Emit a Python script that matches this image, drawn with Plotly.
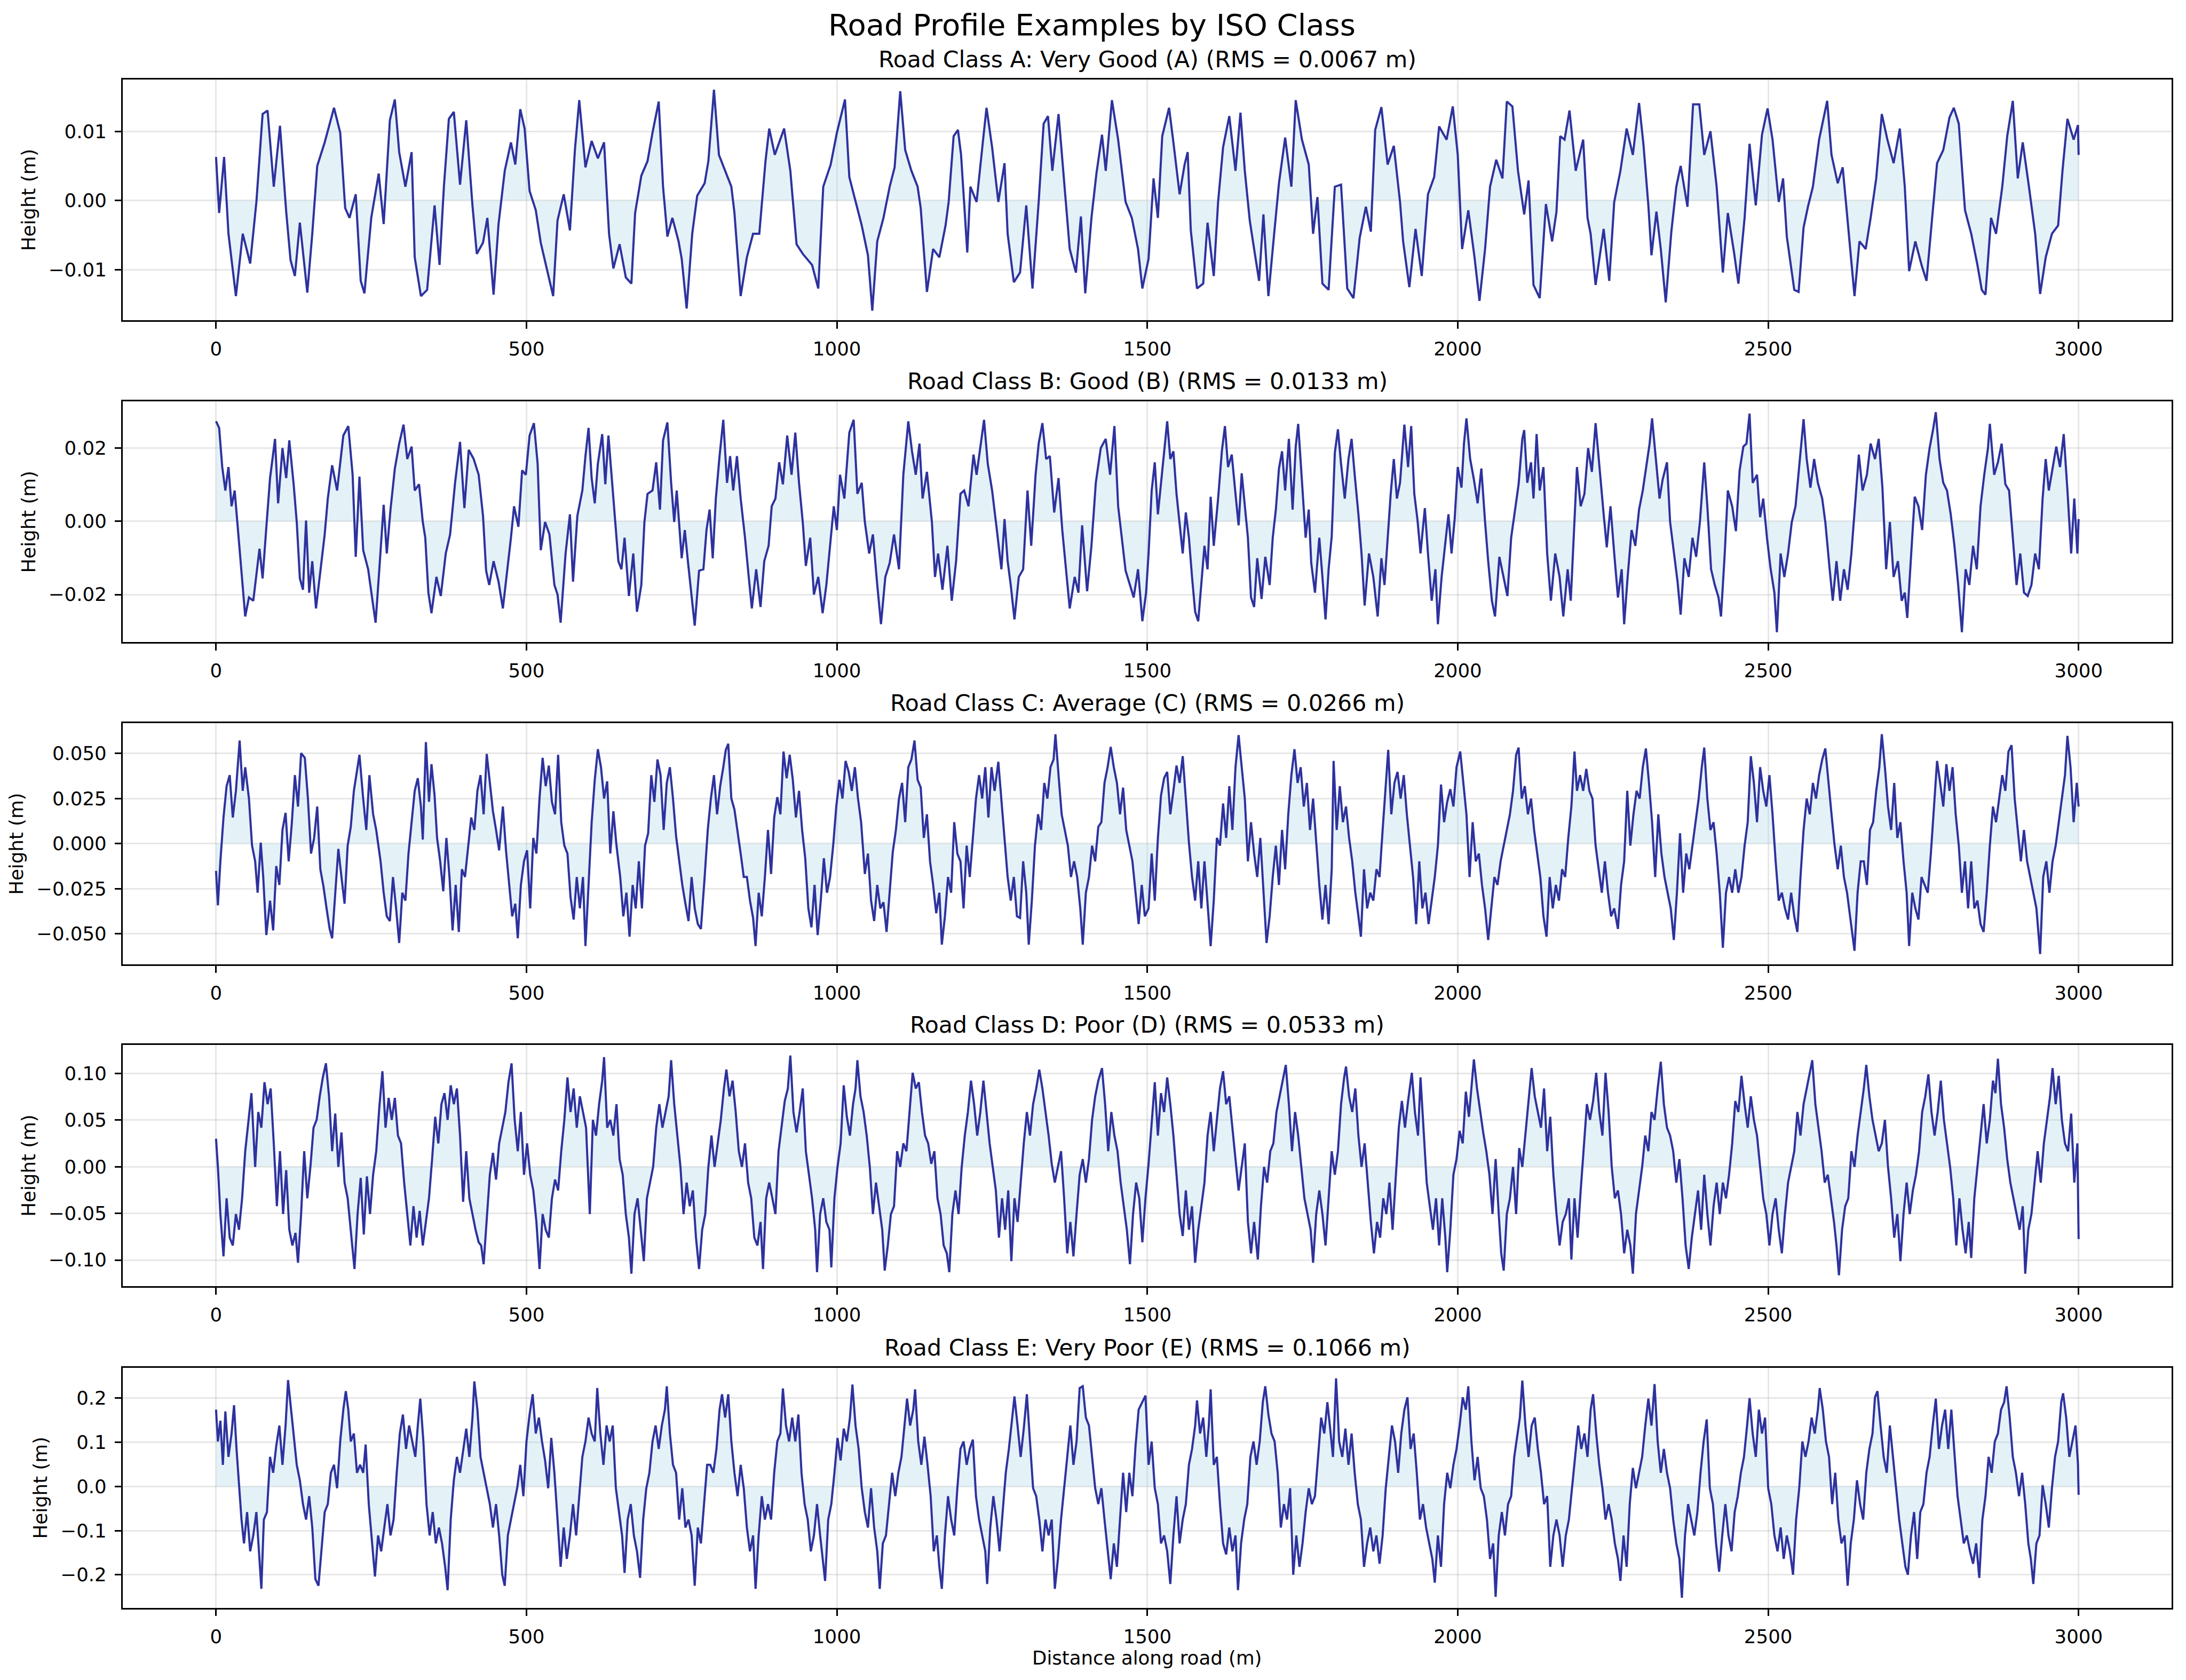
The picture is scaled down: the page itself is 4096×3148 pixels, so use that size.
import plotly.graph_objects as go

# ---------------- data (distance m, height mm) ----------------
road_a = [(0,6.3),(5,-1.8),(13,6.3),(20,-4.8),(32,-13.8),(43,-4.8),(55,-9.1),(65,-0.2),(75,12.5),(83,13.0),
(93,2.0),(103,10.8),(113,-1.6),(120,-8.6),(127,-10.9),(135,-3.2),(147,-13.3),(155,-4.8),(163,5.0),(175,8.4),
(190,13.4),(200,9.8),(208,-1.1),(215,-2.5),(225,0.9),(233,-11.6),(239,-13.4),(250,-2.5),(262,3.9),(270,-3.4),
(280,11.6),(288,14.6),(295,7.0),(305,2.0),(315,7.0),(320,-8.2),(330,-13.8),(340,-12.9),(352,-0.7),(360,-9.3),
(367,2.0),(375,11.8),(383,12.8),(393,2.3),(403,11.6),(413,-0.7),(420,-7.7),(430,-6.1),(437,-2.5),(447,-13.6),
(455,-3.4),(465,4.3),(475,8.4),(482,5.2),(490,13.2),(497,10.4),(505,1.4),(515,-1.4),(523,-6.1),(533,-10.0),
(543,-13.8),(550,-2.9),(560,0.9),(570,-4.3),(578,7.3),(585,14.5),(595,4.8),(605,8.6),(615,6.1),(625,8.4),
(633,-4.8),(640,-9.8),(650,-6.3),(660,-11.1),(669,-12.0),(675,-1.8),(685,3.6),(695,5.7),(703,9.8),(713,14.3),
(720,2.0),(727,-5.2),(735,-2.5),(745,-5.9),(750,-8.4),(758,-15.6),(767,-4.8),(775,0.7),(787,2.5),(793,5.7),
(802,16.0),(810,6.6),(820,4.3),(830,2.0),(835,-1.8),(845,-13.8),(855,-8.2),(865,-4.8),(875,-4.8),(885,5.7),
(891,10.4),(900,6.6),(915,10.4),(925,4.3),(935,-6.3),(945,-7.7),(960,-9.3),(970,-12.7),(978,2.0),(990,5.2),
(1000,9.8),(1013,14.6),(1020,3.4),(1030,0.0),(1040,-3.6),(1050,-7.9),(1057,-15.9),(1065,-5.9),(1075,-2.5),(1085,2.0),
(1093,4.8),(1102,15.8),(1110,7.3),(1120,4.3),(1130,2.0),(1135,-1.1),(1140,-6.8),(1145,-13.2),(1155,-7.0),(1165,-8.2),
(1175,-3.6),(1180,-0.2),(1188,9.3),(1195,10.2),(1200,6.6),(1210,-7.5),(1215,2.0),(1225,-0.2),(1235,8.4),(1241,13.4),
(1250,7.7),(1260,-0.2),(1270,5.4),(1275,-4.8),(1285,-11.8),(1295,-10.4),(1305,-0.7),(1315,-12.7),(1325,-0.2),(1333,11.1),
(1340,12.2),(1347,4.3),(1357,12.5),(1365,3.9),(1375,-7.0),(1385,-10.4),(1393,-2.3),(1400,-13.4),(1410,-2.5),(1418,3.9),
(1427,9.5),(1433,4.3),(1443,14.5),(1453,8.8),(1465,-0.2),(1475,-2.5),(1485,-7.0),(1492,-12.7),
(1502,-8.4),(1510,3.2),(1517,-2.5),(1524,9.3),(1535,13.4),(1542,8.4),(1552,0.9),(1560,5.2),(1565,7.0),(1570,-4.3),
(1580,-12.7),(1590,-12.0),(1597,-3.2),(1607,-10.9),(1614,-0.2),(1622,7.7),(1632,12.2),(1642,4.3),(1650,12.7),(1657,4.3),
(1665,-2.9),(1672,-7.0),(1680,-11.6),(1687,-2.0),(1695,-13.8),(1702,-7.0),(1712,2.5),(1722,9.1),(1732,2.0),(1739,14.5),
(1749,8.8),(1760,5.2),(1767,-4.8),(1774,0.5),(1782,-12.0),(1792,-12.9),(1802,2.0),(1812,2.3),(1822,-12.7),(1832,-14.1),
(1842,-5.4),(1852,-0.9),(1860,-4.5),(1867,10.2),(1877,13.5),(1887,5.2),(1897,7.9),(1907,-0.2),(1912,-5.9),(1922,-12.5),
(1932,-4.1),(1942,-10.9),(1952,0.9),(1962,3.4),(1970,10.7),(1982,8.8),(1992,13.6),(2000,6.6),(2007,-7.0),(2017,-1.4),
(2027,-8.2),(2035,-14.5),(2044,-7.0),(2052,2.0),(2062,5.9),(2072,3.2),(2079,14.3),(2088,13.6),(2097,4.3),(2107,-2.0),
(2114,2.9),(2122,-12.2),(2132,-14.1),(2142,-0.5),(2152,-5.9),(2159,-1.6),(2165,9.3),(2172,8.8),(2180,13.0),(2190,4.3),
(2202,8.8),(2209,-2.5),(2214,-4.8),(2222,-12.2),(2235,-4.1),(2244,-11.6),(2252,-0.2),(2262,4.3),(2272,10.4),(2282,6.6),
(2292,14.1),(2299,8.2),(2307,-0.7),(2312,-7.9),(2320,-1.6),(2327,-7.0),(2335,-14.7),(2344,-4.5),(2352,2.0),(2359,5.0),
(2370,-0.9),(2379,13.9),(2389,13.9),(2397,6.6),(2407,10.0),(2417,2.0),(2427,-10.4),(2435,-1.8),(2445,-7.5),(2452,-12.0),
(2462,-2.5),(2470,8.2),(2480,-0.7),(2490,9.5),(2499,13.3),(2507,8.8),(2517,-0.2),(2524,3.2),(2530,-5.2),(2542,-12.9),
(2549,-13.2),(2557,-3.9),(2564,-0.9),(2572,2.0),(2582,8.8),(2595,14.4),(2602,6.6),(2612,2.5),(2620,4.8),(2627,-2.0),
(2632,-7.0),(2639,-13.8),(2647,-5.9),(2657,-7.0),(2665,-2.5),(2674,3.2),(2683,12.5),(2692,8.8),(2702,5.4),(2712,10.4),
(2720,2.0),(2727,-10.2),(2737,-5.9),(2747,-9.3),(2755,-11.6),(2764,-2.5),(2772,5.4),(2782,7.3),(2792,12.0),(2799,13.4),
(2807,11.1),(2817,-1.4),(2827,-4.8),(2837,-9.3),(2844,-12.9),(2850,-13.6),(2859,-2.5),(2867,-4.8),(2877,2.0),(2885,9.3),
(2894,14.4),(2902,3.2),(2910,8.4),(2920,2.0),(2930,-4.8),(2938,-13.5),(2947,-8.2),(2957,-4.8),(2967,-3.6),(2974,4.3),
(2982,11.8),(2992,8.8),(2999,10.9),(3000,6.6)]

road_b = [(0,27.3),(5,25.5),(10,14.8),(15,8.4),(20,14.8),(25,4.1),(30,8.4),(35,-1.5),(40,-10.9),(47,-26.0),
(53,-20.8),(60,-21.7),(70,-7.5),(75,-15.6),(82,0.6),(87,11.8),(95,22.5),(100,4.9),(107,20.0),(113,11.8),
(118,22.1),(125,10.1),(130,-0.2),(135,-15.6),(140,-18.7),(145,0.2),(150,-19.5),(155,-10.9),(161,-23.8),(167,-14.8),
(175,-3.6),(180,6.2),(187,15.3),(195,8.4),(205,23.4),(213,26.0),(220,12.7),(225,-9.7),(231,12.2),(237,-7.9),
(245,-13.1),(252,-21.7),(257,-27.7),(263,-13.1),(270,4.5),(275,-8.8),(281,3.2),(288,14.4),(295,21.2),(302,26.4),
(308,17.0),(315,20.4),(320,8.4),(327,10.1),(333,-0.2),(337,-4.5),(342,-19.5),(347,-25.1),(355,-15.2),(362,-20.4),
(370,-8.8),(377,-3.6),(385,10.5),(393,21.7),(400,3.6),(407,19.5),(415,17.0),(423,12.7),(430,1.5),(435,-13.5),
(440,-17.4),(447,-10.9),(455,-16.5),(462,-23.8),(468,-15.2),(475,-4.5),(480,4.1),(487,-1.5),(493,13.9),(499,12.7),
(505,23.4),(512,26.8),(518,15.7),(523,-7.9),(530,-0.2),(537,-3.6),(545,-17.4),(550,-20.0),(555,-27.7),(563,-8.8),
(570,1.9),(575,-16.5),(582,1.5),(590,8.4),(595,17.8),(600,25.5),(605,11.8),(610,4.9),(615,15.7),(622,23.8),
(627,10.1),(632,23.4),(637,12.7),(643,-0.2),(648,-10.9),(653,-13.1),(658,-4.5),(665,-20.4),(672,-8.8),(678,-24.7),
(685,-17.4),(690,-0.2),(695,7.5),(703,8.4),(709,16.1),(715,3.2),(720,22.1),(727,27.0),(733,10.5),(738,-0.2),
(742,8.4),(750,-10.1),(755,-2.4),(760,-10.9),(765,-19.5),(771,-28.5),(778,-13.5),(785,-13.1),(790,-2.4),(795,3.2),
(800,-10.1),(805,6.2),(811,17.8),(817,27.7),(823,10.5),(828,17.8),(833,8.4),(839,17.8),(845,6.2),(852,-4.5),
(858,-15.2),(863,-23.8),(870,-13.1),(877,-23.4),(883,-10.9),(890,-6.7),(895,4.1),(901,6.2),(907,16.1),(913,10.1),
(920,23.4),(927,12.7),(933,24.2),(939,10.5),(945,-0.2),(950,-12.2),(957,-4.5),(963,-20.0),(970,-15.2),(977,-25.1),
(983,-17.4),(990,-4.5),(995,4.1),(1000,-2.4),(1005,12.7),(1012,6.2),(1020,24.2),(1027,27.7),(1033,7.5),(1040,10.5),
(1045,-0.2),(1052,-8.8),(1058,-3.6),(1065,-17.4),(1071,-28.1),(1078,-15.2),(1085,-11.4),(1092,-3.6),(1100,-13.1),(1107,12.7),
(1115,27.3),(1121,19.1),(1127,12.7),(1133,21.2),(1138,6.2),(1145,13.5),(1153,-0.2),(1158,-15.2),(1163,-8.8),(1170,-18.7),
(1178,-6.7),(1185,-21.7),(1192,-10.9),(1199,7.5),(1205,8.4),(1212,4.1),(1220,18.2),(1225,12.7),(1231,20.0),(1237,27.7),
(1243,15.7),(1250,8.4),(1257,-1.5),(1265,-13.1),(1270,0.6),(1275,-10.9),(1280,-17.4),(1286,-26.8),(1293,-15.2),(1300,-13.1),
(1307,8.4),(1313,-6.7),(1320,12.7),(1325,21.2),(1331,26.8),(1337,17.0),(1343,17.8),(1350,2.4),(1357,11.8),(1363,-2.4),
(1369,-13.1),(1375,-23.8),(1383,-15.2),(1389,-19.5),(1395,-1.1),(1403,-19.1),(1410,-6.7),(1417,10.5),(1425,20.0),(1433,22.5),
(1440,12.7),(1447,26.0),(1453,4.1),(1460,-6.7),(1465,-13.5),(1472,-17.4),(1478,-20.8),(1485,-13.1),(1492,-27.3),(1498,-19.5),
(1502,-8.8),(1507,8.4),(1512,16.1),(1517,1.9),(1524,13.5),(1532,27.3),(1537,17.0),(1542,19.1),(1547,7.5),(1552,-0.2),
(1557,-8.8),(1562,2.4),(1567,-4.5),(1572,-15.2),(1577,-24.7),(1582,-27.3),(1587,-17.4),(1592,-6.7),(1597,-13.1),(1602,6.7),
(1607,-6.7),(1614,6.2),(1620,19.1),(1625,26.0),(1630,14.8),(1636,18.2),(1642,7.5),(1647,-1.1),(1652,13.1),(1657,4.1),
(1662,-4.5),(1667,-20.8),(1672,-23.4),(1677,-10.1),(1684,-21.2),(1690,-9.7),(1697,-17.4),(1702,-4.5),(1707,3.2),(1712,14.4),
(1717,19.1),(1722,8.4),(1728,22.5),(1734,3.2),(1739,20.4),(1743,26.6),(1749,10.5),(1755,-4.5),(1760,3.2),(1764,-11.4),
(1770,-19.5),(1777,-4.5),(1782,-15.2),(1787,-26.8),(1792,-13.1),(1797,-4.1),(1802,18.7),(1807,25.1),(1812,15.7),(1818,6.2),
(1824,17.0),(1829,22.5),(1834,12.7),(1840,1.9),(1845,-8.8),(1850,-23.0),(1857,-8.8),(1864,-15.2),(1871,-26.0),(1877,-10.1),
(1882,-17.4),(1887,-4.5),(1892,7.5),(1897,17.0),(1902,6.2),(1907,10.5),(1914,26.4),(1920,14.8),(1925,26.0),(1930,7.5),
(1935,0.6),(1940,-8.8),(1947,3.6),(1952,-8.8),(1958,-21.7),(1964,-13.1),(1968,-28.1),(1974,-15.2),(1980,-5.8),(1985,1.9),
(1990,-8.8),(1995,0.6),(2000,14.8),(2006,9.2),(2010,21.2),(2014,28.1),(2020,17.0),(2026,11.4),(2032,4.9),(2038,14.4),
(2044,-0.2),(2049,-10.9),(2055,-21.7),(2060,-26.0),(2067,-9.7),(2074,-15.2),(2080,-20.4),(2086,-4.5),(2092,2.8),(2098,10.1),
(2104,22.5),(2107,24.9),(2112,10.5),(2118,16.1),(2122,6.2),(2127,23.8),(2132,8.4),(2138,14.8),(2144,-8.8),(2150,-21.7),
(2157,-8.8),(2164,-15.2),(2170,-26.0),(2177,-13.1),(2182,-21.7),(2188,-0.2),(2192,14.8),(2198,4.1),(2204,7.5),(2210,20.0),
(2216,13.5),(2222,26.8),(2228,14.8),(2235,1.9),(2240,-7.1),(2246,4.1),(2252,-8.8),(2258,-20.8),(2264,-13.1),(2268,-28.1),
(2274,-14.4),(2280,-2.4),(2286,-6.7),(2292,3.2),(2298,8.4),(2304,15.7),(2309,21.2),(2313,28.1),(2319,17.0),(2325,6.2),
(2330,11.4),(2337,16.1),(2342,-0.2),(2348,-8.8),(2354,-16.5),(2359,-25.5),(2365,-10.1),(2372,-15.2),(2378,-4.5),(2384,-9.7),
(2390,-0.2),(2397,16.1),(2402,4.1),(2408,-13.1),(2414,-17.4),(2420,-20.8),(2424,-26.0),(2430,-8.8),(2435,8.4),(2442,4.1),
(2448,-2.7),(2454,13.9),(2460,20.4),(2465,21.2),(2470,29.4),(2475,10.5),(2482,12.7),(2487,1.1),(2492,6.2),(2498,-4.5),
(2504,-13.1),(2510,-19.5),(2514,-30.3),(2520,-8.8),(2526,-15.2),(2532,-8.8),(2538,-0.2),(2544,4.1),(2550,14.8),(2557,27.9),
(2562,17.0),(2568,9.2),(2574,17.0),(2580,10.5),(2587,6.2),(2592,-0.2),(2599,-13.1),(2604,-21.7),(2610,-10.9),(2616,-21.7),
(2622,-13.1),(2628,-18.7),(2634,-8.8),(2640,4.1),(2646,18.2),(2652,8.4),(2659,12.7),(2665,21.2),(2672,17.0),(2678,22.5),
(2684,9.2),(2690,-13.1),(2696,-0.2),(2702,-15.2),(2709,-10.9),(2715,-21.7),(2720,-19.5),(2724,-26.4),(2730,-8.8),(2736,6.7),
(2742,4.1),(2748,-2.4),(2754,12.7),(2760,20.0),(2766,25.5),(2770,29.8),(2776,17.0),(2782,10.5),(2788,8.4),(2794,1.9),
(2800,-6.7),(2806,-17.4),(2812,-30.3),(2818,-13.1),(2824,-17.4),(2830,-6.7),(2836,-13.1),(2842,4.1),(2848,12.7),(2854,20.0),
(2857,26.6),(2864,12.7),(2870,16.1),(2876,21.2),(2882,10.1),(2888,8.4),(2894,-4.5),(2900,-17.4),(2906,-8.8),(2912,-19.5),
(2918,-20.4),(2924,-17.4),(2930,-8.8),(2936,-13.1),(2942,6.2),(2947,17.0),(2952,8.4),(2958,14.8),(2964,20.4),(2970,14.8),
(2976,23.8),(2982,8.4),(2988,-8.8),(2993,6.2),(2998,-8.8),(3000,0.6)]

road_c = [(0,-15.1),(3,-34.2),(7,-9.8),(12,14.5),(17,31.9),(22,38.0),(27,14.5),(32,29.3),(38,57.2),(43,29.3),
(47,42.4),(53,25.0),(58,-1.1),(63,-9.8),(67,-27.2),(72,0.6),(76,-18.5),(81,-50.7),(87,-31.6),(92,-48.1),
(97,-12.4),(102,-22.9),(107,7.6),(112,17.1),(117,-9.8),(122,11.1),(127,38.0),(132,20.6),(137,50.2),(143,47.6),
(148,25.0),(153,-5.5),(158,3.2),(163,20.6),(168,-14.2),(173,-23.7),(178,-35.9),(183,-47.3),(187,-52.5),(192,-27.2),
(197,-2.9),(202,-18.5),(207,-33.3),(212,-1.1),(217,9.3),(222,29.3),(227,40.6),(231,49.3),(237,25.0),(242,7.6),
(247,38.0),(253,16.3),(258,7.6),(265,-9.8),(270,-27.2),(275,-40.3),(280,-42.9),(285,-18.5),(290,-35.9),(295,-55.1),
(300,-27.2),(305,-31.6),(310,-5.5),(315,11.1),(320,29.3),(325,36.3),(330,20.6),(333,2.3),(338,56.3),(343,23.2),
(347,44.1),(352,26.7),(356,3.2),(361,-9.8),(366,-26.4),(371,3.2),(376,-18.5),(381,-48.1),(386,-22.9),(391,-49.0),
(396,-14.2),(401,-18.5),(406,-1.1),(411,14.5),(416,7.6),(421,29.3),(426,38.0),(431,16.3),(436,49.8),(441,33.7),
(446,18.0),(451,7.6),(456,-3.7),(462,20.6),(467,-3.7),(472,-22.0),(477,-40.3),(482,-33.3),(486,-52.5),(491,-22.9),
(496,-9.8),(501,-3.7),(506,-35.9),(511,3.2),(516,-5.5),(521,25.0),(526,47.6),(531,31.9),(536,43.3),(541,23.2),
(546,16.3),(551,49.3),(556,11.9),(561,-1.1),(566,-5.5),(571,-29.9),(576,-42.1),(581,-18.5),(586,-35.9),(591,-18.5),
(595,-56.8),(600,-22.9),(605,11.9),(610,35.4),(615,52.4),(620,42.4),(625,25.0),(630,34.6),(635,-5.5),(640,18.0),
(645,-1.1),(651,-18.5),(656,-40.3),(661,-27.2),(666,-51.6),(671,-22.9),(676,-35.9),(681,-9.8),(686,-35.9),(691,-1.1),
(696,5.8),(701,38.0),(706,23.2),(711,46.7),(716,38.0),(721,7.6),(726,33.7),(731,42.4),(736,25.0),(741,4.1),
(746,-9.8),(751,-22.9),(756,-33.3),(761,-42.9),(766,-18.5),(771,-35.9),(776,-44.6),(781,-47.3),(787,-18.5),(792,7.6),
(797,25.0),(802,38.0),(807,16.3),(812,31.9),(817,42.4),(821,52.0),(825,55.4),(830,25.0),(835,18.9),(840,7.6),
(845,-5.5),(850,-18.5),(855,-18.5),(860,-31.6),(865,-41.2),(869,-56.8),(874,-27.2),(879,-40.3),(884,-18.5),(889,7.6),
(894,-16.8),(899,14.5),(904,25.8),(909,16.3),(914,51.1),(919,36.3),(924,49.3),(929,35.4),(934,14.5),(939,29.3),
(944,7.6),(949,-8.1),(954,-35.9),(959,-46.4),(964,-22.9),(969,-50.7),(974,-31.6),(979,-8.1),(984,-27.2),(989,-18.5),
(994,-1.1),(999,20.6),(1004,35.4),(1009,25.0),(1014,45.9),(1019,39.8),(1024,29.3),(1029,42.4),(1034,25.0),(1039,11.9),
(1045,-16.8),(1050,-5.5),(1055,-31.6),(1060,-42.9),(1065,-22.9),(1070,-35.9),(1075,-32.5),(1080,-49.0),(1085,-27.2),(1090,-4.6),
(1095,7.6),(1100,25.0),(1105,33.7),(1110,11.9),(1115,42.4),(1120,46.7),(1125,57.2),(1130,35.4),(1135,31.1),(1140,3.2),
(1145,16.3),(1150,-9.8),(1155,-22.9),(1160,-38.6),(1165,-27.2),(1169,-56.0),(1174,-40.3),(1179,-18.5),(1184,-27.2),(1189,11.9),
(1194,-5.5),(1199,-9.8),(1204,-35.9),(1209,-1.1),(1214,-18.5),(1219,3.2),(1224,25.0),(1229,38.0),(1234,25.0),(1239,42.4),
(1244,14.5),(1249,42.4),(1254,29.3),(1260,45.4),(1265,25.0),(1270,3.2),(1275,-18.5),(1280,-31.6),(1285,-18.5),(1290,-40.3),
(1295,-41.2),(1300,-9.8),(1305,-27.2),(1309,-56.0),(1314,-31.6),(1319,-1.1),(1324,16.3),(1329,7.6),(1334,33.7),(1339,25.0),
(1344,42.4),(1349,46.7),(1352,60.7),(1357,38.0),(1362,16.3),(1367,7.6),(1372,-1.1),(1377,-18.5),(1382,-9.8),(1387,-18.5),
(1392,-35.9),(1396,-56.0),(1401,-27.2),(1406,-18.5),(1411,-1.1),(1416,-9.8),(1421,9.3),(1426,11.9),(1431,33.7),(1436,42.4),
(1441,53.7),(1446,42.4),(1451,33.7),(1456,16.3),(1461,31.1),(1466,7.6),(1471,-1.1),(1476,-9.8),(1481,-27.2),(1486,-44.6),
(1491,-22.9),(1496,-40.3),
(1502,-35.9),(1507,-5.5),(1512,-31.6),(1517,3.2),(1522,26.7),(1527,36.3),(1532,39.8),(1537,16.3),(1542,29.3),(1547,43.3),
(1552,33.7),(1557,48.5),(1562,25.0),(1567,0.6),(1572,-18.5),(1577,-31.6),(1582,-9.8),(1587,-35.9),(1592,-9.8),(1597,-31.6),
(1602,-56.8),(1607,-31.6),(1612,3.2),(1617,-1.1),(1622,22.3),(1627,3.2),(1632,31.9),(1637,7.6),(1642,42.4),(1647,60.2),
(1652,42.4),(1657,25.0),(1662,-9.8),(1667,11.9),(1672,-5.5),(1677,-18.5),(1682,3.2),(1687,-27.2),(1692,-55.1),(1697,-40.3),
(1702,-18.5),(1707,-1.1),(1712,-22.9),(1717,7.6),(1722,-14.2),(1727,16.3),(1732,38.0),(1737,52.4),(1742,33.7),(1747,42.4),
(1752,20.6),(1757,33.7),(1762,7.6),(1767,25.0),(1772,-1.1),(1777,-22.9),(1782,-42.1),(1787,-22.9),(1792,-44.6),(1797,-14.2),
(1800,45.9),(1805,7.6),(1810,31.9),(1815,11.9),(1820,20.6),(1825,3.2),(1830,-9.8),(1835,-27.2),(1840,-40.3),(1844,-51.6),
(1849,-14.2),(1854,-35.9),(1859,-27.2),(1864,-31.6),(1869,-14.2),(1874,-18.5),(1879,7.6),(1884,33.7),(1888,52.0),(1893,16.3),
(1898,33.7),(1903,39.8),(1908,25.0),(1913,38.0),(1918,16.3),(1923,-1.1),(1928,-18.5),(1933,-44.6),(1938,-9.8),(1943,-35.9),
(1948,-27.2),(1953,-44.6),(1958,-31.6),(1963,-18.5),(1968,-1.1),(1973,32.8),(1978,11.9),(1983,23.2),(1988,30.2),(1993,20.6),
(1998,42.4),(2004,51.1),(2009,33.7),(2014,16.3),(2019,-18.5),(2024,11.9),(2029,-9.8),(2034,-5.5),(2039,-22.9),(2044,-35.9),
(2049,-53.4),(2054,-35.9),(2059,-18.5),(2064,-22.9),(2069,-9.8),(2074,-1.1),(2079,7.6),(2084,16.3),(2089,29.3),(2094,49.3),
(2098,53.3),(2103,25.0),(2108,31.9),(2113,16.3),(2118,25.0),(2123,7.6),(2128,-5.5),(2133,-18.5),(2138,-40.3),(2143,-51.6),
(2148,-18.5),(2153,-35.9),(2158,-22.9),(2163,-31.6),(2168,-14.2),(2173,-18.5),(2178,3.2),(2183,20.6),(2188,51.1),(2192,29.3),
(2197,38.0),(2202,29.3),(2207,41.5),(2212,29.3),(2217,25.0),(2222,-1.1),(2227,-14.2),(2232,-27.2),(2237,-9.8),(2242,-27.2),
(2247,-40.3),(2252,-35.9),(2258,-47.3),(2263,-22.9),(2268,-9.8),(2273,29.3),(2278,-1.1),(2283,16.3),(2288,29.3),(2293,25.0),
(2298,42.4),(2303,52.8),(2308,33.7),(2313,11.9),(2318,-18.5),(2323,16.3),(2328,-5.5),(2333,-18.5),(2338,-27.2),(2343,-35.9),
(2348,-53.4),(2353,-27.2),(2358,5.8),(2363,-27.2),(2368,-5.5),(2373,-14.2),(2378,-1.1),(2383,11.9),(2388,25.0),(2393,42.4),
(2397,53.3),(2402,25.0),(2407,7.6),(2412,11.9),(2417,-5.5),(2422,-27.2),(2427,-57.7),(2432,-27.2),(2437,-18.5),(2442,-27.2),
(2447,-14.2),(2452,-27.2),(2457,-18.5),(2462,-1.1),(2467,11.9),(2472,48.5),(2477,33.7),(2482,11.9),(2487,42.4),(2492,29.3),
(2497,20.6),(2502,38.0),(2507,16.3),(2512,-9.8),(2517,-31.6),(2522,-27.2),(2527,-35.9),(2532,-42.1),(2537,-27.2),(2542,-40.3),
(2547,-49.0),(2552,-18.5),(2557,7.6),(2562,25.0),(2567,16.3),(2572,33.7),(2577,25.0),(2582,38.0),(2587,46.7),(2592,52.8),
(2597,33.7),(2602,16.3),(2607,-1.1),(2612,-14.2),(2617,-1.1),(2622,-18.5),(2627,-27.2),(2632,-40.3),(2639,-59.4),(2644,-27.2),
(2649,-9.8),(2654,-9.8),(2659,-22.9),(2664,7.6),(2669,11.9),(2674,29.3),(2679,42.4),(2683,60.7),(2688,42.4),(2693,20.6),
(2698,7.6),(2703,33.7),(2708,3.2),(2713,11.9),(2718,-9.8),(2723,-27.2),(2727,-56.8),(2732,-27.2),(2737,-35.9),(2742,-42.1),
(2747,-18.5),(2752,-22.9),(2757,-27.2),(2762,-5.5),(2767,20.6),(2772,45.9),(2777,33.7),(2782,20.6),(2787,44.1),(2792,29.3),
(2797,42.4),(2802,16.3),(2807,-1.1),(2812,-27.2),(2817,-9.8),(2822,-35.9),(2827,-9.8),(2832,-35.9),(2837,-31.6),(2842,-44.6),
(2847,-49.0),(2852,-27.2),(2857,-1.1),(2862,20.6),(2867,11.9),(2872,25.0),(2877,38.0),(2882,29.3),(2887,51.1),(2892,54.6),
(2897,25.0),(2902,7.6),(2907,-9.8),(2912,7.6),(2917,-9.8),(2922,-18.5),(2927,-27.2),(2932,-35.9),(2938,-61.2),(2943,-18.5),
(2948,-9.8),(2953,-27.2),(2958,-9.8),(2963,-1.1),(2968,11.9),(2973,25.0),(2978,38.0),(2982,59.8),(2987,42.4),(2992,11.9),
(2997,33.7),(3000,20.6)]

road_d = [(0,29.9),(3,-0.3),(7,-50.8),(12,-96.1),(17,-33.9),(22,-76.0),(27,-84.4),(32,-50.8),(37,-67.6),(42,-33.9),
(47,16.5),(52,50.1),(57,78.7),(63,-0.3),(68,58.5),(73,41.7),(78,90.4),(83,66.9),(88,83.7),(93,24.9),
(98,-42.4),(103,16.5),(108,-50.8),(113,-3.7),(118,-67.6),(123,-84.4),(128,-70.9),(132,-102.9),(137,-50.8),(142,16.5),
(147,-33.9),(152,-0.3),(157,41.7),(162,50.1),(167,75.3),(172,95.5),(177,110.6),(182,75.3),(187,16.5),(192,56.8),
(197,-0.3),(202,36.6),(207,-17.1),(212,-33.9),(217,-67.6),(223,-109.6),(228,-50.8),(233,-12.1),(238,-72.6),(243,-10.4),
(248,-50.8),(253,-8.7),(258,16.5),(263,63.5),(268,102.2),(273,41.7),(278,73.6),(283,50.1),(288,73.6),(293,33.3),
(298,24.9),(303,-17.1),(308,-50.8),(313,-84.4),(318,-42.4),(323,-76.0),(328,-47.4),(333,-84.4),(338,-59.2),(343,-33.9),
(348,8.1),(353,53.4),(358,24.9),(363,66.9),(368,78.7),(373,50.1),(378,87.1),(383,66.9),(388,83.7),(393,33.3),
(398,-37.6),(403,16.5),(408,-33.9),(413,-50.8),(418,-67.6),(423,-81.0),(427,-84.4),(431,-104.5),(436,-59.2),(441,-8.7),
(446,14.8),(451,-13.8),(456,24.9),(461,41.7),(466,58.5),(471,90.4),(476,110.6),(481,50.1),(486,16.5),(491,58.5),
(496,-8.7),(501,24.9),(506,-8.7),(511,-25.5),(516,-59.2),(521,-109.6),(526,-50.8),(531,-67.6),(536,-76.0),(541,-33.9),
(546,-13.8),(551,-25.5),(556,16.5),(561,50.1),(566,95.5),(571,58.5),(576,83.7),(581,41.7),(586,75.3),(591,58.5),
(596,41.7),(602,-50.8),(607,50.1),(612,33.3),(617,66.9),(622,92.1),(625,117.3),(630,41.7),(635,50.1),(640,33.3),
(645,66.9),(650,8.1),(655,-8.7),(660,-50.8),(665,-76.0),(669,-114.6),(674,-50.8),(679,-33.9),(684,-67.6),(689,-101.2),
(694,-33.9),(699,-17.1),(704,-0.3),(709,41.7),(714,66.9),(719,41.7),(724,58.5),(729,75.3),(733,114.0),(738,66.9),
(743,33.3),(748,-0.3),(753,-50.8),(758,-17.1),(763,-42.4),(768,-25.5),(773,-76.0),(778,-109.6),(783,-67.6),(788,-50.8),
(793,-0.3),(798,33.3),(803,-0.3),(808,24.9),(813,50.1),(818,83.7),(822,103.9),(827,75.3),(832,92.1),(837,58.5),
(842,16.5),(847,-0.3),(852,24.9),(857,-17.1),(862,-33.9),(867,-76.0),(872,-84.4),(877,-59.2),(881,-109.6),(886,-33.9),
(891,-17.1),(896,-33.9),(901,-50.8),(906,16.5),(911,41.7),(916,70.3),(921,83.7),(925,119.0),(930,58.5),(935,36.6),
(940,58.5),(945,83.7),(950,16.5),(955,-8.7),(960,-33.9),(965,-67.6),(968,-113.0),(973,-50.8),(978,-33.9),(983,-59.2),
(988,-67.6),(991,-107.9),(996,-33.9),(1001,-0.3),(1006,24.9),(1011,87.1),(1016,53.4),(1021,33.3),(1026,66.9),(1030,83.7),
(1033,114.0),(1038,75.3),(1043,58.5),(1048,33.3),(1053,-0.3),(1058,-50.8),(1063,-17.1),(1068,-42.4),(1073,-67.6),(1077,-111.3),
(1082,-84.4),(1087,-50.8),(1092,-42.4),(1097,16.5),(1102,-0.3),(1107,24.9),(1112,16.5),(1117,58.5),(1122,100.5),(1127,83.7),
(1132,90.4),(1137,58.5),(1142,33.3),(1147,24.9),(1152,3.0),(1157,16.5),(1162,-33.9),(1167,-50.8),(1172,-84.4),(1177,-92.8),
(1181,-113.0),(1186,-50.8),(1191,-25.5),(1196,-50.8),(1201,-0.3),(1206,33.3),(1211,58.5),(1216,92.1),(1221,66.9),(1226,33.3),
(1231,58.5),(1236,92.1),(1241,58.5),(1246,24.9),(1251,-0.3),(1256,-25.5),(1261,-76.0),(1266,-33.9),(1271,-67.6),(1276,-25.5),
(1281,-101.2),(1286,-33.9),(1291,-59.2),(1296,-17.1),(1301,24.9),(1306,58.5),(1311,33.3),(1316,66.9),(1321,83.7),(1326,103.9),
(1331,83.7),(1336,58.5),(1341,33.3),(1346,3.0),(1351,-17.1),(1356,-0.3),(1361,16.5),(1366,-33.9),(1371,-92.8),(1376,-59.2),
(1381,-96.1),(1386,-50.8),(1391,-8.7),(1396,8.1),(1401,-17.1),(1406,8.1),(1411,50.1),(1416,75.3),(1421,92.1),(1427,105.5),
(1432,66.9),(1437,16.5),(1442,58.5),(1447,33.3),(1452,16.5),(1457,-17.1),(1462,-42.4),(1467,-67.6),(1472,-104.5),(1477,-50.8),
(1482,-17.1),(1487,-33.9),(1492,-81.0),(1497,-33.9),
(1502,3.0),(1507,50.1),(1512,90.4),(1517,33.3),(1522,78.7),(1527,58.5),(1532,95.5),(1537,66.9),(1542,33.3),(1547,-8.7),
(1552,-50.8),(1557,-74.3),(1562,-25.5),(1567,-67.6),(1572,-42.4),(1577,-102.9),(1582,-67.6),(1587,-42.4),(1592,-17.1),(1597,33.3),
(1602,58.5),(1607,16.5),(1612,50.1),(1617,83.7),(1622,102.2),(1627,66.9),(1632,75.3),(1637,41.7),(1642,8.1),(1647,-25.5),
(1652,-0.3),(1657,24.9),(1662,-59.2),(1667,-92.8),(1672,-59.2),(1678,-99.5),(1683,-42.4),(1688,-0.3),(1693,-17.1),(1698,16.5),
(1703,24.9),(1708,58.5),(1713,75.3),(1718,92.1),(1723,108.9),(1728,66.9),(1733,16.5),(1738,58.5),(1743,33.3),(1748,-0.3),
(1753,-33.9),(1758,-50.8),(1763,-67.6),(1767,-102.9),(1772,-50.8),(1777,-25.5),(1782,-50.8),(1787,-84.4),(1792,-33.9),(1797,16.5),
(1802,-8.7),(1807,16.5),(1812,66.9),(1817,95.5),(1820,107.2),(1825,75.3),(1830,58.5),(1835,83.7),(1840,33.3),(1845,-0.3),
(1850,24.9),(1855,-17.1),(1860,-59.2),(1865,-92.8),(1870,-59.2),(1875,-76.0),(1880,-33.9),(1885,-50.8),(1890,-17.1),(1895,-67.6),
(1900,-8.7),(1905,41.7),(1910,70.3),(1915,41.7),(1920,70.3),(1926,100.5),(1931,58.5),(1936,33.3),(1940,95.5),(1945,41.7),
(1950,-17.1),(1955,-42.4),(1960,-67.6),(1965,-33.9),(1970,-84.4),(1975,-33.9),(1980,-76.0),(1983,-113.0),(1988,-67.6),(1993,-8.7),
(1998,8.1),(2003,38.3),(2008,24.9),(2013,80.3),(2018,53.4),(2023,92.1),(2026,114.8),(2031,83.7),(2036,58.5),(2041,36.6),
(2046,16.5),(2051,-8.7),(2056,-50.8),(2061,8.1),(2066,-50.8),(2070,-92.8),(2074,-111.3),(2079,-50.8),(2084,-33.9),(2089,-0.3),
(2094,-50.8),(2099,19.8),(2104,-0.3),(2109,33.3),(2114,66.9),(2119,105.5),(2124,75.3),(2129,58.5),(2134,41.7),(2139,83.7),
(2144,16.5),(2149,53.4),(2154,-8.7),(2159,-50.8),(2164,-84.4),(2169,-59.2),(2174,-50.8),(2179,-33.9),(2183,-99.5),(2188,-33.9),
(2193,-76.0),(2198,-25.5),(2203,24.9),(2208,66.9),(2213,50.1),(2218,70.3),(2223,100.5),(2228,58.5),(2233,33.3),(2238,100.5),
(2243,58.5),(2248,-0.3),(2253,-33.9),(2258,-25.5),(2263,-50.8),(2268,-92.8),(2273,-67.6),(2278,-84.4),(2282,-114.6),(2287,-50.8),
(2292,-25.5),(2297,-0.3),(2302,33.3),(2307,16.5),(2312,58.5),(2317,50.1),(2322,83.7),(2327,112.3),(2332,66.9),(2337,41.7),
(2342,33.3),(2347,16.5),(2352,-17.1),(2357,8.1),(2362,-33.9),(2367,-84.4),(2372,-109.6),(2377,-76.0),(2382,-50.8),(2387,-25.5),
(2392,-67.6),(2397,-8.7),(2402,-50.8),(2407,-84.4),(2412,-42.4),(2417,-17.1),(2422,-50.8),(2427,-17.1),(2432,-33.9),(2437,-8.7),
(2442,24.9),(2447,70.3),(2452,58.5),(2457,97.2),(2462,66.9),(2467,41.7),(2472,75.3),(2477,50.1),(2482,33.3),(2487,-0.3),
(2492,-33.9),(2497,-50.8),(2502,-84.4),(2507,-50.8),(2512,-33.9),(2517,-67.6),(2522,-92.8),(2527,-50.8),(2532,-17.1),(2537,-0.3),
(2542,16.5),(2547,58.5),(2552,33.3),(2557,66.9),(2562,83.7),(2567,100.5),(2571,114.0),(2576,66.9),(2581,41.7),(2586,16.5),
(2591,-17.1),(2596,-8.7),(2601,-33.9),(2606,-59.2),(2610,-84.4),(2614,-116.3),(2619,-67.6),(2624,-42.4),(2629,-33.9),(2634,16.5),
(2639,-0.3),(2644,33.3),(2649,58.5),(2654,83.7),(2658,108.9),(2663,75.3),(2668,50.1),(2673,33.3),(2678,16.5),(2683,24.9),
(2688,50.1),(2693,-0.3),(2698,-33.9),(2703,-76.0),(2708,-50.8),(2713,-101.2),(2718,-50.8),(2723,-17.1),(2728,-50.8),(2733,-25.5),
(2738,-8.7),(2743,16.5),(2748,58.5),(2753,75.3),(2758,98.8),(2763,58.5),(2768,33.3),(2773,58.5),(2778,92.1),(2783,50.1),
(2788,24.9),(2793,-0.3),(2798,-33.9),(2803,-84.4),(2808,-33.9),(2813,-67.6),(2818,-92.8),(2823,-59.2),(2827,-97.8),(2832,-33.9),
(2837,-0.3),(2842,33.3),(2847,66.9),(2852,24.9),(2857,50.1),(2862,92.1),(2866,78.7),(2870,115.6),(2875,66.9),(2880,41.7),
(2885,8.1),(2890,-17.1),(2895,-33.9),(2900,-50.8),(2905,-67.6),(2910,-42.4),(2914,-114.6),(2919,-67.6),(2924,-50.8),(2929,-17.1),
(2934,16.5),(2939,-17.1),(2944,24.9),(2949,50.1),(2954,75.3),(2958,105.5),(2963,66.9),(2968,97.2),(2973,50.1),(2978,24.9),
(2983,16.5),(2988,56.8),(2993,-17.1),(2998,24.9),(3000,-77.6)]

road_e = [(0,174),(3,102),(7,149),(11,49),(15,170),(20,67),(25,120),(29,184),(33,85),(37,-4),
(41,-75),(45,-129),(50,-58),(55,-147),(60,-111),(65,-58),(69,-147),(73,-232),(77,-75),(82,-58),
(87,67),(92,31),(97,92),(102,138),(107,49),(112,138),(116,241),(121,174),(125,120),(130,49),
(135,14),(140,-40),(145,-75),(150,-22),(155,-93),(160,-210),(165,-225),(170,-147),(175,-58),(180,-40),
(185,31),(190,49),(195,-4),(200,102),(205,174),(209,216),(213,174),(217,102),(222,120),(227,31),
(232,49),(237,31),(241,95),(246,-40),(251,-129),(256,-204),(261,-111),(266,-147),(271,-93),(276,-40),
(281,-111),(286,-75),(291,31),(296,120),(301,163),(306,85),(311,138),(316,102),(321,67),(325,138),
(329,199),(334,102),(339,-40),(344,-111),(349,-58),(354,-129),(359,-93),(364,-129),(369,-182),(373,-235),
(378,-75),(383,14),(388,67),(393,31),(398,85),(403,131),(408,67),(413,156),(416,238),(421,174),
(426,67),(431,31),(436,-4),(441,-40),(446,-93),(451,-40),(456,-111),(461,-200),(465,-225),(470,-111),
(475,-75),(480,-40),(485,-4),(490,49),(495,-22),(500,102),(505,163),(510,209),(515,120),(520,156),
(525,102),(530,59),(535,-4),(540,110),(545,31),(550,-75),(555,-182),(560,-93),(565,-164),(570,-111),
(575,-40),(580,-111),(585,-22),(590,67),(595,102),(600,156),(605,120),(610,102),(614,223),(619,120),
(624,49),(629,138),(634,102),(639,138),(644,-4),(649,-58),(654,-111),(658,-196),(663,-75),(668,-40),
(673,-111),(678,-147),(683,-207),(688,-75),(693,-4),(698,31),(703,102),(708,138),(713,85),(718,138),
(723,174),(726,227),(731,120),(736,49),(741,31),(746,-75),(751,-4),(756,-93),(761,-75),(766,-111),
(771,-225),(776,-93),(781,-129),(786,-40),(791,49),(796,49),(801,31),(806,85),(811,174),(815,209),
(820,156),(825,209),(830,102),(835,31),(840,-22),(845,49),(850,-4),(855,-93),(860,-147),(865,-111),
(869,-232),(874,-111),(879,-22),(884,-75),(889,-40),(894,-75),(899,31),(904,102),(909,120),(913,222),
(918,138),(923,102),(928,156),(933,102),(938,163),(943,31),(948,-40),(953,-75),(958,-147),(963,-111),
(968,-40),(973,-111),(978,-182),(981,-214),(986,-75),(991,-40),(996,31),(1001,110),(1006,59),(1011,131),
(1016,102),(1021,156),(1025,231),(1030,138),(1035,85),(1040,-4),(1045,-58),(1050,-93),(1055,-4),(1060,-93),
(1065,-147),(1069,-232),(1074,-129),(1079,-111),(1084,-40),(1089,31),(1094,-22),(1099,31),(1104,67),(1109,138),
(1113,199),(1118,138),(1123,174),(1126,220),(1131,102),(1136,49),(1141,113),(1146,49),(1151,-22),(1156,-147),
(1161,-111),(1165,-182),(1169,-232),(1174,-111),(1179,-22),(1184,-75),(1189,-111),(1194,-4),(1199,85),(1204,102),
(1209,49),(1214,85),(1219,106),(1224,-22),(1229,-75),(1234,-111),(1239,-147),(1242,-221),(1247,-93),(1252,-22),
(1257,-75),(1262,-147),(1267,-58),(1272,31),(1277,85),(1282,156),(1286,204),(1291,138),(1296,67),(1301,131),
(1306,209),(1311,102),(1316,-4),(1321,-22),(1326,-75),(1331,-147),(1336,-75),(1341,-111),(1346,-75),(1351,-232),
(1356,-164),(1361,-75),(1366,-4),(1371,67),(1376,138),(1381,49),(1386,102),(1391,223),(1396,227),(1401,156),
(1406,138),(1411,67),(1416,-4),(1421,-40),(1426,-4),(1431,-75),(1436,-147),(1441,-210),(1446,-129),(1451,-182),
(1456,-75),(1461,31),(1466,-58),(1471,31),(1476,-22),(1481,92),(1486,174),(1491,188),(1497,206),
(1502,49),(1507,102),(1512,-4),(1517,-40),(1522,-129),(1527,-111),(1532,-147),(1537,-221),(1542,-111),(1547,-22),
(1552,-129),(1557,-75),(1562,-40),(1567,49),(1572,85),(1577,138),(1580,195),(1585,120),(1590,156),(1595,67),
(1599,138),(1602,220),(1607,49),(1612,67),(1617,-40),(1622,-129),(1627,-154),(1632,-93),(1637,-147),(1642,-111),
(1646,-235),(1651,-129),(1656,-75),(1661,-40),(1666,67),(1671,102),(1676,49),(1681,102),(1686,191),(1690,227),
(1695,163),(1700,120),(1705,102),(1710,31),(1715,-93),(1720,-40),(1725,-75),(1730,-4),(1735,-200),(1740,-111),
(1745,-182),(1750,-129),(1755,-58),(1760,-4),(1765,-40),(1770,-22),(1775,67),(1780,156),(1785,120),(1790,191),
(1794,138),(1799,67),(1804,245),(1809,102),(1814,67),(1819,131),(1824,49),(1829,120),(1834,31),(1839,-40),
(1844,-75),(1849,-182),(1854,-129),(1859,-93),(1864,-147),(1869,-111),(1874,-175),(1879,-111),(1884,-4),(1889,67),
(1894,138),(1899,102),(1904,31),(1909,120),(1914,174),(1919,202),(1924,85),(1929,120),(1934,31),(1939,-75),
(1944,-40),(1949,-93),(1954,-129),(1959,-164),(1963,-218),(1968,-111),(1973,-182),(1978,-40),(1983,31),(1988,-4),
(1993,49),(1998,85),(2003,138),(2008,202),(2013,174),(2017,227),(2022,102),(2027,14),(2032,67),(2037,-4),
(2042,-22),(2047,-75),(2052,-164),(2057,-129),(2061,-250),(2066,-111),(2071,-58),(2076,-111),(2081,-40),(2086,-22),
(2091,67),(2096,120),(2100,156),(2104,240),(2109,138),(2114,67),(2119,138),(2124,156),(2129,85),(2134,31),
(2139,-40),(2144,-22),(2149,-182),(2154,-111),(2159,-75),(2164,-111),(2169,-182),(2174,-111),(2179,-75),(2184,-4),
(2189,67),(2194,138),(2199,85),(2204,120),(2209,67),(2214,174),(2218,209),(2223,120),(2228,49),(2233,-4),
(2238,-75),(2243,-40),(2248,-75),(2253,-129),(2258,-164),(2262,-214),(2267,-111),(2272,-182),(2277,-40),(2282,42),
(2287,-4),(2292,31),(2297,67),(2302,138),(2307,199),(2312,138),(2317,232),(2322,102),(2327,31),(2332,85),
(2337,31),(2342,-4),(2347,-75),(2352,-129),(2357,-164),(2361,-252),(2366,-111),(2371,-40),(2376,-75),(2381,-111),
(2386,-58),(2391,31),(2396,102),(2401,152),(2406,-4),(2411,-40),(2416,-129),(2421,-193),(2426,-111),(2431,-40),
(2436,-111),(2441,-147),(2446,-58),(2451,-22),(2456,31),(2461,67),(2466,138),(2470,200),(2475,120),(2480,67),
(2485,174),(2490,120),(2495,156),(2500,-4),(2505,-40),(2510,-111),(2515,-147),(2520,-93),(2525,-164),(2530,-111),
(2535,-147),(2540,-200),(2545,-75),(2550,-4),(2555,102),(2560,67),(2565,102),(2570,156),(2575,120),(2580,174),
(2583,223),(2588,174),(2593,102),(2598,67),(2603,-40),(2608,31),(2613,-75),(2618,-129),(2623,-111),(2628,-225),
(2633,-129),(2638,-75),(2643,14),(2648,-40),(2653,-75),(2658,31),(2663,85),(2668,120),(2672,202),(2676,216),
(2681,138),(2686,67),(2691,31),(2696,138),(2701,67),(2706,-4),(2711,-75),(2716,-129),(2721,-182),(2725,-200),
(2730,-111),(2735,-58),(2740,-164),(2745,-58),(2750,-40),(2755,31),(2760,67),(2765,138),(2770,199),(2775,85),
(2780,138),(2785,174),(2790,85),(2795,174),(2800,67),(2805,-22),(2810,-75),(2815,-129),(2820,-111),(2825,-147),
(2830,-175),(2835,-129),(2840,-207),(2845,-75),(2850,-22),(2855,67),(2860,31),(2865,102),(2870,120),(2875,174),
(2880,191),(2884,227),(2889,156),(2894,67),(2899,31),(2904,-22),(2909,31),(2914,-40),(2919,-129),(2923,-164),
(2927,-221),(2932,-129),(2937,-111),(2942,3),(2947,-40),(2952,-93),(2957,-4),(2962,67),(2967,102),(2972,191),
(2975,211),(2980,156),(2985,67),(2990,102),(2995,138),(2999,49),(3000,-19)]

class_letters = ["A", "B", "C", "D", "E"]
class_names = ["Very Good", "Good", "Average", "Poor", "Very Poor"]
rms_values = [0.0067, 0.0133, 0.0266, 0.0533, 0.1066]
profiles = [road_a, road_b, road_c, road_d, road_e]

y_ranges = [[-0.0173, 0.0175], [-0.0330, 0.0327], [-0.0670, 0.0668], [-0.1281, 0.1304], [-0.275, 0.269]]
y_tickvals = [[-0.01, 0.0, 0.01], [-0.02, 0.0, 0.02], [-0.05, -0.025, 0.0, 0.025, 0.05],
              [-0.10, -0.05, 0.0, 0.05, 0.10], [-0.2, -0.1, 0.0, 0.1, 0.2]]
y_ticktext = [["\u22120.01", "0.00", "0.01"], ["\u22120.02", "0.00", "0.02"],
              ["\u22120.050", "\u22120.025", "0.000", "0.025", "0.050"],
              ["\u22120.10", "\u22120.05", "0.00", "0.05", "0.10"],
              ["\u22120.2", "\u22120.1", "0.0", "0.1", "0.2"]]
x_tickvals = [0, 500, 1000, 1500, 2000, 2500, 3000]
x_ticktext = ["0", "500", "1000", "1500", "2000", "2500", "3000"]
x_range = [-150, 3150]

# ---------------- layout geometry ----------------
W, H = 4096, 3148
FONT = "DejaVu Sans"
TICK_PX = 35.6
TITLE_PX = 42.7
SUP_PX = 56
LW = 2.8
x_domain = [230.3 / W, 4069.3 / W]
panel_px = [(148.8, 600.2), (752.4, 1203.2), (1355.2, 1807.2), (1957.9, 2410.2), (2562.9, 3012.8)]
y_domains = [[1 - b / H, 1 - t / H] for (t, b) in panel_px]

line_color = "rgb(46,50,158)"
fill_color = "rgba(173,216,230,0.33)"
grid_color = "rgba(176,176,176,0.3)"

fig = go.Figure()
annotations = []
layout_axes = {}
for i, prof in enumerate(profiles):
    xs = [p[0] for p in prof]
    ys = [p[1] / 1000.0 for p in prof]
    suffix = "" if i == 0 else str(i + 1)
    fig.add_trace(go.Scatter(
        x=xs, y=ys, mode="lines",
        line=dict(color=line_color, width=4.0),
        fill="tozeroy", fillcolor=fill_color,
        xaxis="x" + suffix, yaxis="y" + suffix,
        showlegend=False, hoverinfo="skip"))
    common = dict(showgrid=True, gridcolor=grid_color, gridwidth=2.8,
                  showline=True, linecolor="black", linewidth=LW, mirror=True,
                  ticks="outside", ticklen=12.5, tickwidth=LW, tickcolor="black",
                  tickfont=dict(family=FONT, size=TICK_PX, color="black"),
                  zeroline=False, automargin=False, ticklabelstandoff=8)
    layout_axes["xaxis" + suffix] = dict(
        common, domain=x_domain, range=x_range, anchor="y" + suffix,
        tickmode="array", tickvals=x_tickvals, ticktext=x_ticktext)
    layout_axes["yaxis" + suffix] = dict(
        common, domain=y_domains[i], range=y_ranges[i], anchor="x" + suffix,
        tickmode="array", tickvals=y_tickvals[i], ticktext=y_ticktext[i],
        title=dict(text="Height (m)", font=dict(family=FONT, size=TICK_PX, color="black"), standoff=14))
    annotations.append(dict(
        text=f"Road Class {class_letters[i]}: {class_names[i]} ({class_letters[i]}) (RMS = {rms_values[i]:.4f} m)",
        x=(x_domain[0] + x_domain[1]) / 2, y=y_domains[i][1], xref="paper", yref="paper",
        xanchor="center", yanchor="bottom", yshift=11, showarrow=False,
        font=dict(family=FONT, size=TITLE_PX, color="black")))

annotations.append(dict(text="Road Profile Examples by ISO Class", x=0.4995, y=1 - 47 / H,
                        xref="paper", yref="paper", xanchor="center", yanchor="middle",
                        showarrow=False, font=dict(family=FONT, size=SUP_PX, color="black")))
annotations.append(dict(text="Distance along road (m)", x=(x_domain[0] + x_domain[1]) / 2, y=1 - 3106 / H,
                        xref="paper", yref="paper", xanchor="center", yanchor="middle",
                        showarrow=False, font=dict(family=FONT, size=TICK_PX, color="black")))

fig.update_layout(width=W, height=H, margin=dict(l=0, r=0, t=0, b=0),
                  paper_bgcolor="white", plot_bgcolor="white",
                  annotations=annotations, **layout_axes)
fig.write_html("out.html")
